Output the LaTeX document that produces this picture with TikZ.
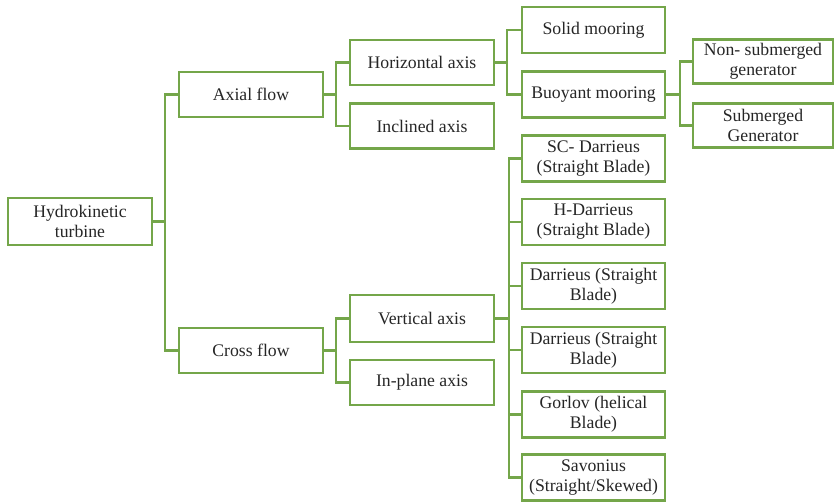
\documentclass[tikz,border=0pt]{standalone}
\usepackage{fontspec}
\setmainfont{Liberation Serif}
\definecolor{boxgreen}{RGB}{116,166,74}
\begin{document}
\begin{tikzpicture}[x=1pt,y=-1pt,
  box/.style={draw=boxgreen,line width=2.2pt,fill=white,align=center,inner sep=1pt,
    font=\fontsize{17.7}{20}\selectfont,text=black!85},
  bw/.style={box,minimum width=144pt,minimum height=45pt},
  cw/.style={box,minimum width=143pt,minimum height=46pt},
  gw/.style={box,minimum width=140pt,minimum height=44pt},
  link/.style={draw=boxgreen,line width=2.2pt}]
\useasboundingbox (0,0) rectangle (835,501);
% nodes
\node[bw,minimum height=47pt] (hydro) at (80,221.5) {Hydrokinetic\\turbine};
\node[bw] (axial) at (251,94.5) {Axial flow};
\node[bw] (cross) at (251,350.5) {Cross flow};
\node[bw] (horiz) at (422,62.5) {Horizontal axis};
\node[bw] (incl) at (422,126) {Inclined axis};
\node[bw,minimum height=47pt] (vert) at (422,318.5) {Vertical axis};
\node[bw] (inplane) at (422,382.5) {In-plane axis};
\node[cw] (solid) at (593.5,30) {Solid mooring};
\node[cw] (buoy) at (593.5,94.5) {Buoyant mooring};
\node[gw] (nonsub) at (763,61.5) {Non- submerged\\generator};
\node[gw] (sub) at (763,125.5) {Submerged\\Generator};
\node[cw] (sc) at (593.5,158.5) {SC- Darrieus\\(Straight Blade)};
\node[cw] (hd) at (593.5,222) {H-Darrieus\\(Straight Blade)};
\node[cw] (d1) at (593.5,286) {Darrieus (Straight\\Blade)};
\node[cw] (d2) at (593.5,350) {Darrieus (Straight\\Blade)};
\node[cw] (gor) at (593.5,414.5) {Gorlov (helical\\Blade)};
\node[cw] (sav) at (593.5,477.5) {Savonius\\(Straight/Skewed)};
% branch coordinates
\coordinate (t0) at (165,0);
\coordinate (t1) at (336,0);
\coordinate (t2) at (507,0);
\coordinate (t3) at (509,0);
\coordinate (t4) at (680,0);
% connectors
\draw[link] (hydro.east) -- (hydro.east -| t0);
\draw[link] (axial.west) -- (axial.west -| t0) -- (cross.west -| t0) -- (cross.west);
\draw[link] (axial.east) -- (axial.east -| t1);
\draw[link] (horiz.west) -- (horiz.west -| t1) -- (incl.west -| t1) -- (incl.west);
\draw[link] (cross.east) -- (cross.east -| t1);
\draw[link] (vert.west) -- (vert.west -| t1) -- (inplane.west -| t1) -- (inplane.west);
\draw[link] (horiz.east) -- (horiz.east -| t2);
\draw[link] (solid.west) -- (solid.west -| t2) -- (buoy.west -| t2) -- (buoy.west);
\draw[link] (buoy.east) -- (buoy.east -| t4);
\draw[link] (nonsub.west) -- (nonsub.west -| t4) -- (sub.west -| t4) -- (sub.west);
\draw[link] (vert.east) -- (vert.east -| t3);
\draw[link] (sc.west) -- (sc.west -| t3) -- (sav.west -| t3) -- (sav.west);
\draw[link] (hd.west) -- (hd.west -| t3);
\draw[link] (d1.west) -- (d1.west -| t3);
\draw[link] (d2.west) -- (d2.west -| t3);
\draw[link] (gor.west) -- (gor.west -| t3);
\end{tikzpicture}
\end{document}
